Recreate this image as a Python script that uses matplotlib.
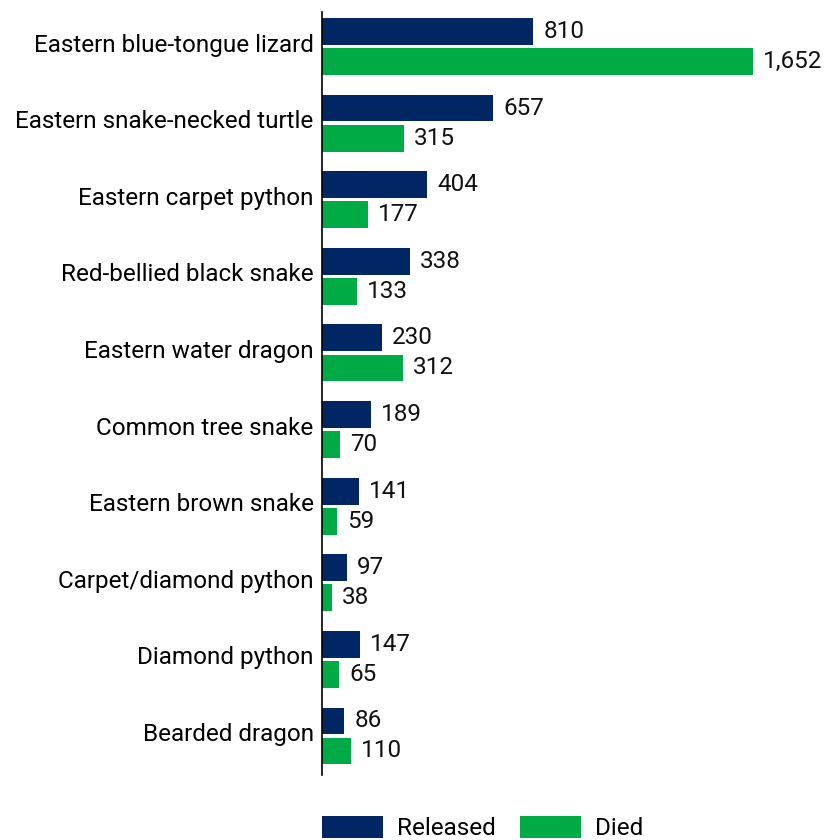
import numpy as np
import matplotlib.pyplot as plt

species = [
    "Eastern blue-tongue lizard",
    "Eastern snake-necked turtle",
    "Eastern carpet python",
    "Red-bellied black snake",
    "Eastern water dragon",
    "Common tree snake",
    "Eastern brown snake",
    "Carpet/diamond python",
    "Diamond python",
    "Bearded dragon",
]
released = [810, 657, 404, 338, 230, 189, 141, 97, 147, 86]
died = [1652, 315, 177, 133, 312, 70, 59, 38, 65, 110]

NAVY = "#002664"
GREEN = "#00aa45"
FS = 17.5

plt.rcParams["font.family"] = ["Roboto", "DejaVu Sans"]

fig = plt.figure(figsize=(8.35, 8.4), dpi=100)
ax = fig.add_axes([322 / 835, 65 / 840, 513 / 835, 763 / 840])

y = np.arange(len(species))
h = 0.35
off = 0.196
b1 = ax.barh(y - off, released, height=h, color=NAVY, label="Released")
b2 = ax.barh(y + off, died, height=h, color=GREEN, label="Died")

for bars, vals in [(b1, released), (b2, died)]:
    for bar, v in zip(bars, vals):
        ax.text(bar.get_width() + 38, bar.get_y() + bar.get_height() / 2,
                f"{v:,}", va="center", ha="left", fontsize=FS, color="#111111")

ax.set_xlim(0, 1966)
ax.set_ylim(9.51, -0.45)
ax.set_yticks(y - 0.05)
ax.set_yticklabels(species, fontsize=FS)
ax.tick_params(axis="y", length=0, pad=6)
ax.set_xticks([])
for s in ["top", "right", "bottom"]:
    ax.spines[s].set_visible(False)
ax.spines["left"].set_linewidth(1.2)

fig.legend(handles=[b1, b2], loc="center left", bbox_to_anchor=(322 / 835, 12 / 840),
           ncol=2, frameon=False, fontsize=FS, handlelength=2.5, borderpad=0,
           borderaxespad=0, handleheight=1.03, columnspacing=1.0, handletextpad=0.58)

fig.savefig("out.png", dpi=100)
